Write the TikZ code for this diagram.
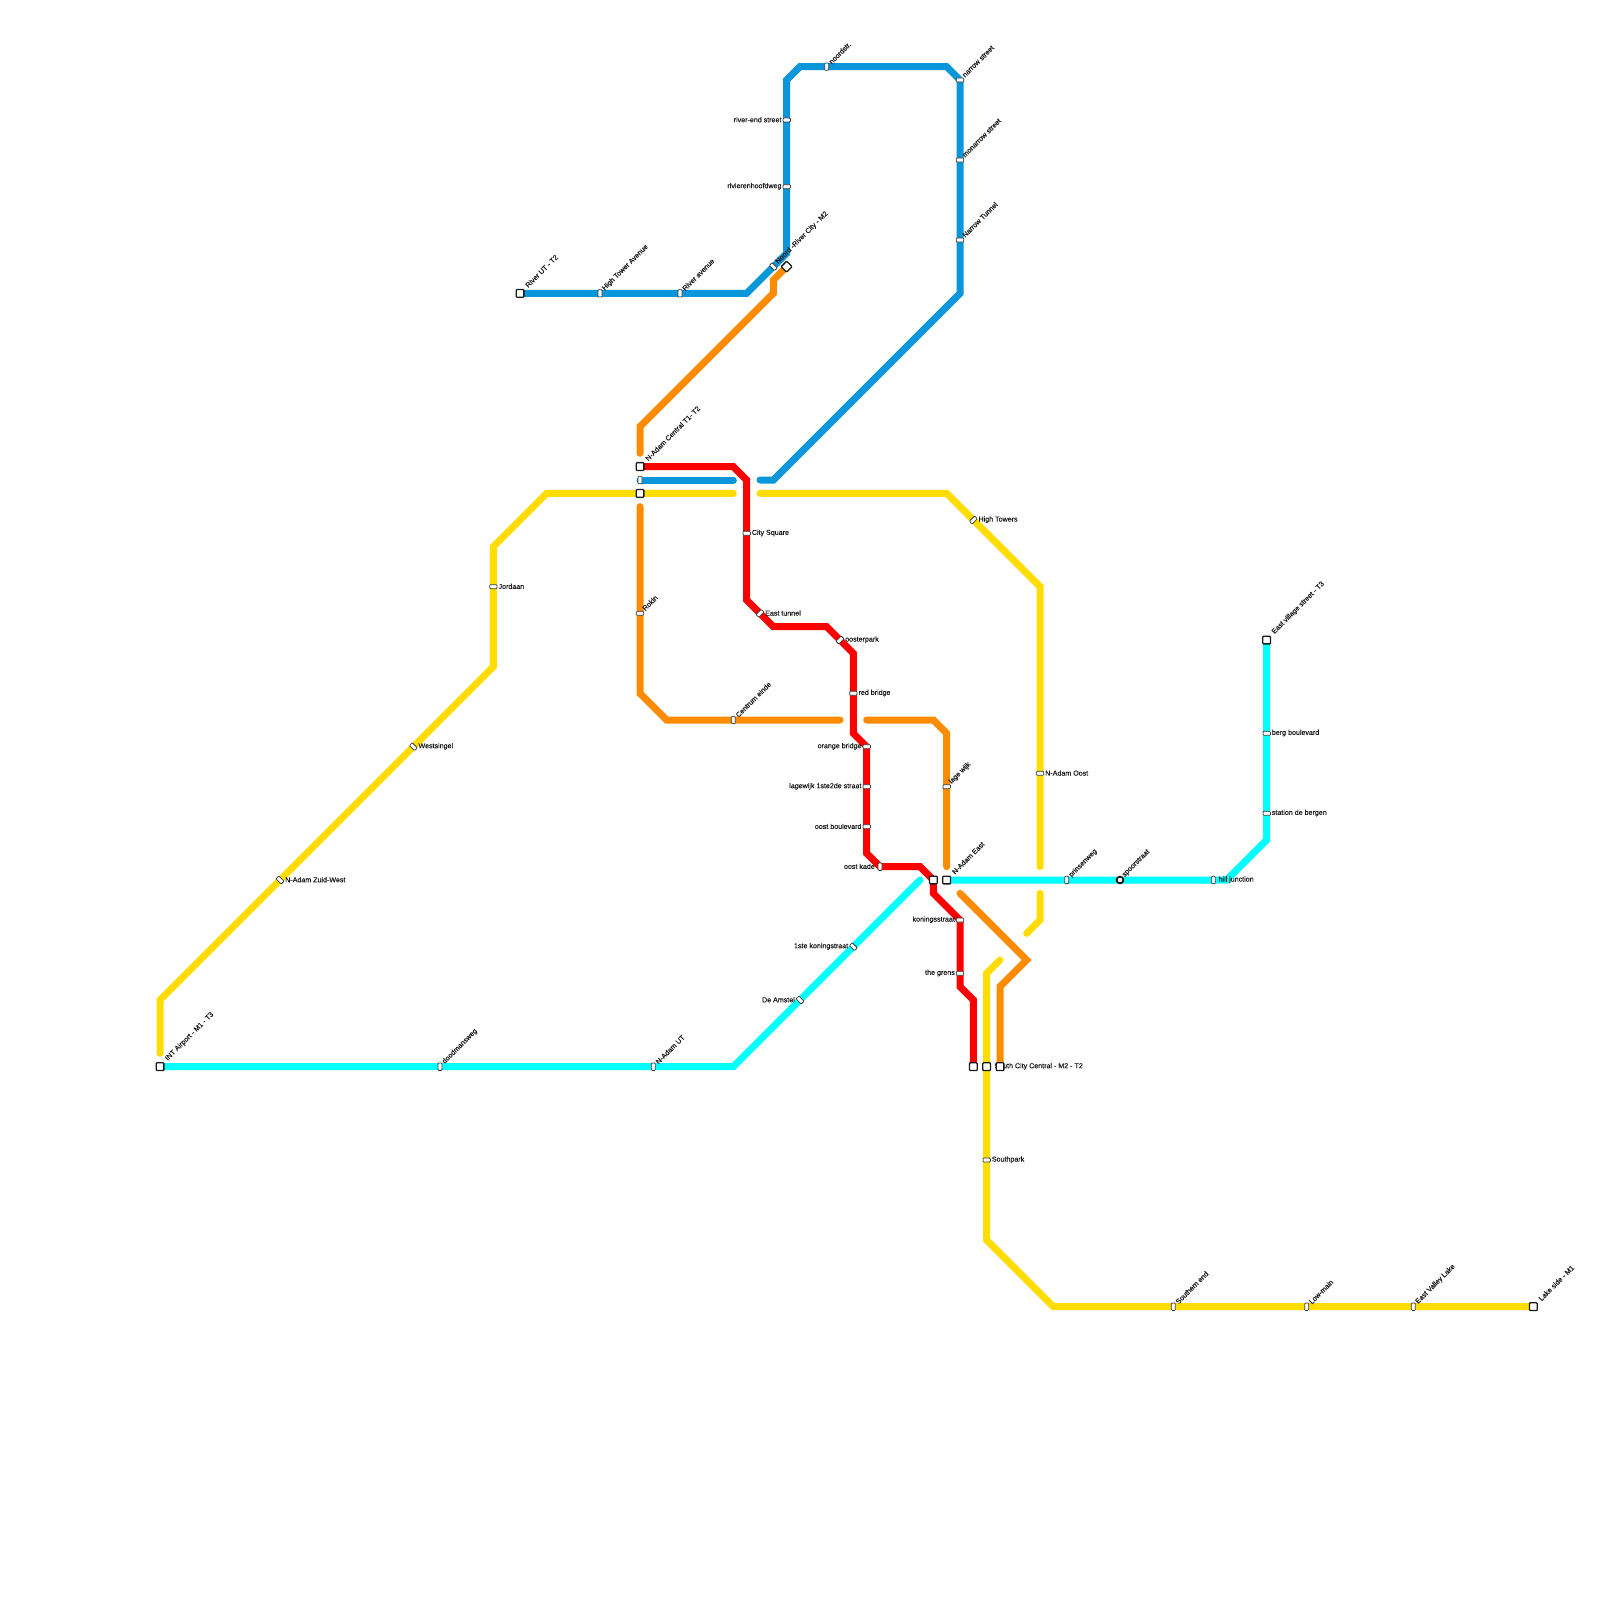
\documentclass[tikz,border=0pt]{standalone}
\usepackage{fontspec}
\usetikzlibrary{calc}
\setmainfont{Liberation Sans}[BoldFont={Liberation Sans},BoldFeatures={FakeBold=0.3}]
\pgfdeclarelayer{lines}
\pgfdeclarelayer{labs}
\pgfsetlayers{lines,labs,main}
\definecolor{lblue}{HTML}{0A96D9}
\definecolor{lcyan}{HTML}{00FFFF}
\definecolor{lred}{HTML}{FF0000}
\definecolor{lorange}{HTML}{FF8C00}
\definecolor{lyellow}{HTML}{FFDD00}
\definecolor{ink}{HTML}{1A1A1A}
\tikzset{
  metro/.style={line width=7pt,line cap=round,line join=miter,miter limit=10},
  blueline/.style={metro,draw=lblue},
  cyanline/.style={metro,draw=lcyan},
  redline/.style={metro,draw=lred},
  orangeline/.style={metro,draw=lorange},
  yellowline/.style={metro,draw=lyellow},
  stop/.style={draw=ink!85,fill=white,line width=.75pt,inner sep=0pt,rectangle,rounded corners=.9pt,minimum width=4pt,minimum height=7.4pt},
  sv/.style={stop},
  sh/.style={stop,rotate=90},
  sbs/.style={stop,rotate=45},
  sfs/.style={stop,rotate=-45},
  hub/.style={draw=ink,fill=white,line width=1.3pt,inner sep=0pt,rectangle,rounded corners=.8pt,minimum size=7.7pt},
  hubd/.style={hub,rotate=45},
  ring/.style={draw=black,fill=white,line width=1.6pt,inner sep=0pt,circle,minimum size=6.8pt},
  txt/.style={font=\fontsize{7.1pt}{8pt}\selectfont\bfseries,text=ink,inner sep=0pt},
  tup/.style={txt,anchor=west,xshift=3.4pt,yshift=3.8pt,rotate=45},
  tuph/.style={txt,anchor=west,xshift=6.4pt,yshift=7pt,rotate=45},
  tr/.style={txt,anchor=west,xshift=5pt,yshift=.3pt},
  tl/.style={txt,anchor=east,xshift=-5pt,yshift=.3pt},
}
\newcommand{\stn}[5]{\node[#3] (#1) at (#2) {};\begin{pgfonlayer}{labs}\node[#4] (#1-t) at (#2) {#5};\end{pgfonlayer}}
\begin{document}
\begin{tikzpicture}[x=13.33333pt,y=-13.33333pt]
\begin{pgfonlayer}{lines}
\path[fill=white,use as bounding box] (0,0) rectangle (120,120);
\end{pgfonlayer}
% hubs
\stn{riverut}{39,22}{hub}{tuph}{River UT - T2}
\stn{central-r}{48,35}{hub}{tuph}{N-Adam Central T1- T2}
\node[stop] (central-b) at (48,36) {};
\node[hub] (central-y) at (48,37) {};
\stn{airport}{12,80}{hub}{tuph}{INT Airport - M1 - T3}
\stn{lakeside}{115,98}{hub}{tuph}{Lake side - M1}
\stn{eastvillage}{95,48}{hub}{tuph}{East village street - T3}
\node[hub] (adameast-r) at (70,66) {};
\stn{adameast-c}{71,66}{hub}{tuph}{N-Adam East}
\node[hub] (south-r) at (73,80) {};
\node[hub] (south-y) at (74,80) {};
\node[hub] (south-o) at (75,80) {};
\begin{pgfonlayer}{labs}
\node[txt,anchor=east] (south-t) at ($(75,80)+(83pt,.3pt)$) {South City Central - M2 - T2};
\end{pgfonlayer}
\node[hubd] (noord-o) at (59,20) {};
% blue stops
\stn{hightower}{45,22}{sv}{tup}{High Tower Avenue}
\stn{riverave}{51,22}{sv}{tup}{River avenue}
\stn{noord-b}{58,20}{sbs}{tup}{Noord -River City - M2}
\stn{riverend}{59,9}{sh}{tl}{river-end street}
\stn{rivieren}{59,14}{sh}{tl}{rivierenhoofdweg}
\stn{noordstr}{62,5}{sv}{tup}{noordstr.}
\stn{narrow}{72,6}{sh}{tup}{narrow street}
\stn{monarrow}{72,12}{sh}{tup}{monarrow street}
\stn{narrowt}{72,18}{sh}{tup}{Narrow Tunnel}
% red stops
\stn{cityq}{56,40}{sh}{tr}{City Square}
\stn{easttun}{57,46}{sfs}{tr}{East tunnel}
\stn{ooster}{63,48}{sfs}{tr}{oosterpark}
\stn{redbr}{64,52}{sh}{tr}{red bridge}
\stn{orangebr}{65,56}{sh}{tl}{orange bridge}
\stn{lagewijk}{65,59}{sh}{tl}{lagewijk 1ste2de straat}
\stn{oostb}{65,62}{sh}{tl}{oost boulevard}
\stn{oostk}{66,65}{sv}{tl}{oost kade}
\stn{koning}{72,69}{sh}{tl}{koningsstraat}
\stn{grens}{72,73}{sh}{tl}{the grens}
% orange stops
\stn{rokin}{48,46}{sh}{tup}{Rokin}
\stn{centrum}{55,54}{sv}{tup}{Centrum einde}
\stn{lagew}{71,59}{sh}{tup}{lage wijk}
% yellow stops
\stn{jordaan}{37,44}{sh}{tr}{Jordaan}
\stn{westsingel}{31,56}{sbs}{tr}{Westsingel}
\stn{zuidwest}{21,66}{sbs}{tr}{N-Adam Zuid-West}
\stn{htowers}{73,39}{sfs}{tr}{High Towers}
\stn{adamoost}{78,58}{sh}{tr}{N-Adam Oost}
\stn{southpark}{74,87}{sh}{tr}{Southpark}
\stn{southern}{88,98}{sv}{tup}{Southern end}
\stn{lowmain}{98,98}{sv}{tup}{Low-main}
\stn{eastvalley}{106,98}{sv}{tup}{East Valley Lake}
% cyan stops
\stn{doodmans}{33,80}{sv}{tup}{doodmansweg}
\stn{adamut}{49,80}{sv}{tup}{N-Adam UT}
\stn{amstel}{60,75}{sbs}{tl}{De Amstel}
\stn{koning1}{64,71}{sbs}{tl}{1ste koningstraat}
\stn{prinsen}{80,66}{sv}{tup}{prinsenweg}
\stn{spoor}{84,66}{ring}{tup}{spoorstraat}
\stn{hill}{91,66}{sv}{tr}{hill junction}
\stn{berg}{95,55}{sh}{tr}{berg boulevard}
\stn{bergen}{95,61}{sh}{tr}{station de bergen}
% bends and free ends
\coordinate (ba) at (56,22); \coordinate (bb) at (59,19); \coordinate (bc) at (59,6);
\coordinate (bd) at (60,5); \coordinate (be) at (71,5); \coordinate (bf) at (72,22);
\coordinate (bg) at (58,36); \coordinate (bh) at (57,36); \coordinate (bi) at (55,36);
\coordinate (oa) at (58,21); \coordinate (ob) at (58,22); \coordinate (oc) at (48,32);
\coordinate (od) at (48,34); \coordinate (oe) at (48,38); \coordinate (of) at (48,52);
\coordinate (og) at (50,54); \coordinate (oh) at (63,54); \coordinate (oi) at (65,54);
\coordinate (oj) at (70,54); \coordinate (ok) at (71,55); \coordinate (ol) at (71,65);
\coordinate (om) at (72,67); \coordinate (on) at (77,72); \coordinate (oo) at (75,74);
\coordinate (ra) at (55,35); \coordinate (rb) at (56,36); \coordinate (rc) at (56,45);
\coordinate (rd) at (58,47); \coordinate (re) at (62,47); \coordinate (rf) at (64,49);
\coordinate (rg) at (64,55); \coordinate (rh) at (65,64); \coordinate (ri) at (69,65);
\coordinate (rj) at (70,67); \coordinate (rk) at (72,74); \coordinate (rl) at (73,75);
\coordinate (ya) at (12,79); \coordinate (yb) at (12,75); \coordinate (yc) at (37,50);
\coordinate (yd) at (37,41); \coordinate (ye) at (41,37); \coordinate (yf) at (55,37);
\coordinate (yg) at (57,37); \coordinate (yh) at (71,37); \coordinate (yi) at (78,44);
\coordinate (yj) at (78,65); \coordinate (yk) at (78,67); \coordinate (yl) at (78,69);
\coordinate (ym) at (77,70); \coordinate (yn) at (75,72); \coordinate (yo) at (74,73);
\coordinate (yp) at (74,93); \coordinate (yq) at (79,98);
\coordinate (ca) at (55,80); \coordinate (cb) at (69,66); \coordinate (cc) at (92,66);
\coordinate (cd) at (95,63);
\begin{pgfonlayer}{lines}
\draw[blueline] (riverut.center) -- (ba) -- (bb) -- (bc) -- (bd) -- (be) -- (narrow.center) -- (bf) -- (bg) -- (bh);
\draw[blueline] (central-b.center) -- (bi);
\draw[orangeline] (noord-o.center) -- (oa) -- (ob) -- (oc) -- (od);
\draw[orangeline] (oe) -- (of) -- (og) -- (oh);
\draw[orangeline] (oi) -- (oj) -- (ok) -- (ol);
\draw[orangeline] (om) -- (on) -- (oo) -- (south-o.center);
\draw[redline] (central-r.center) -- (ra) -- (rb) -- (rc) -- (rd) -- (re) -- (rf) -- (rg) -- (orangebr.center) -- (rh) -- (oostk.center) -- (ri) -- (adameast-r.center) -- (rj) -- (koning.center) -- (rk) -- (rl) -- (south-r.center);
\draw[yellowline] (ya) -- (yb) -- (yc) -- (yd) -- (ye) -- (yf);
\draw[yellowline] (yg) -- (yh) -- (yi) -- (yj);
\draw[yellowline] (yk) -- (yl) -- (ym);
\draw[yellowline] (yn) -- (yo) -- (yp) -- (yq) -- (lakeside.center);
\draw[cyanline] (airport.center) -- (ca) -- (cb);
\draw[cyanline] (adameast-c.center) -- (cc) -- (cd) -- (eastvillage.center);
\end{pgfonlayer}
\end{tikzpicture}
\end{document}
